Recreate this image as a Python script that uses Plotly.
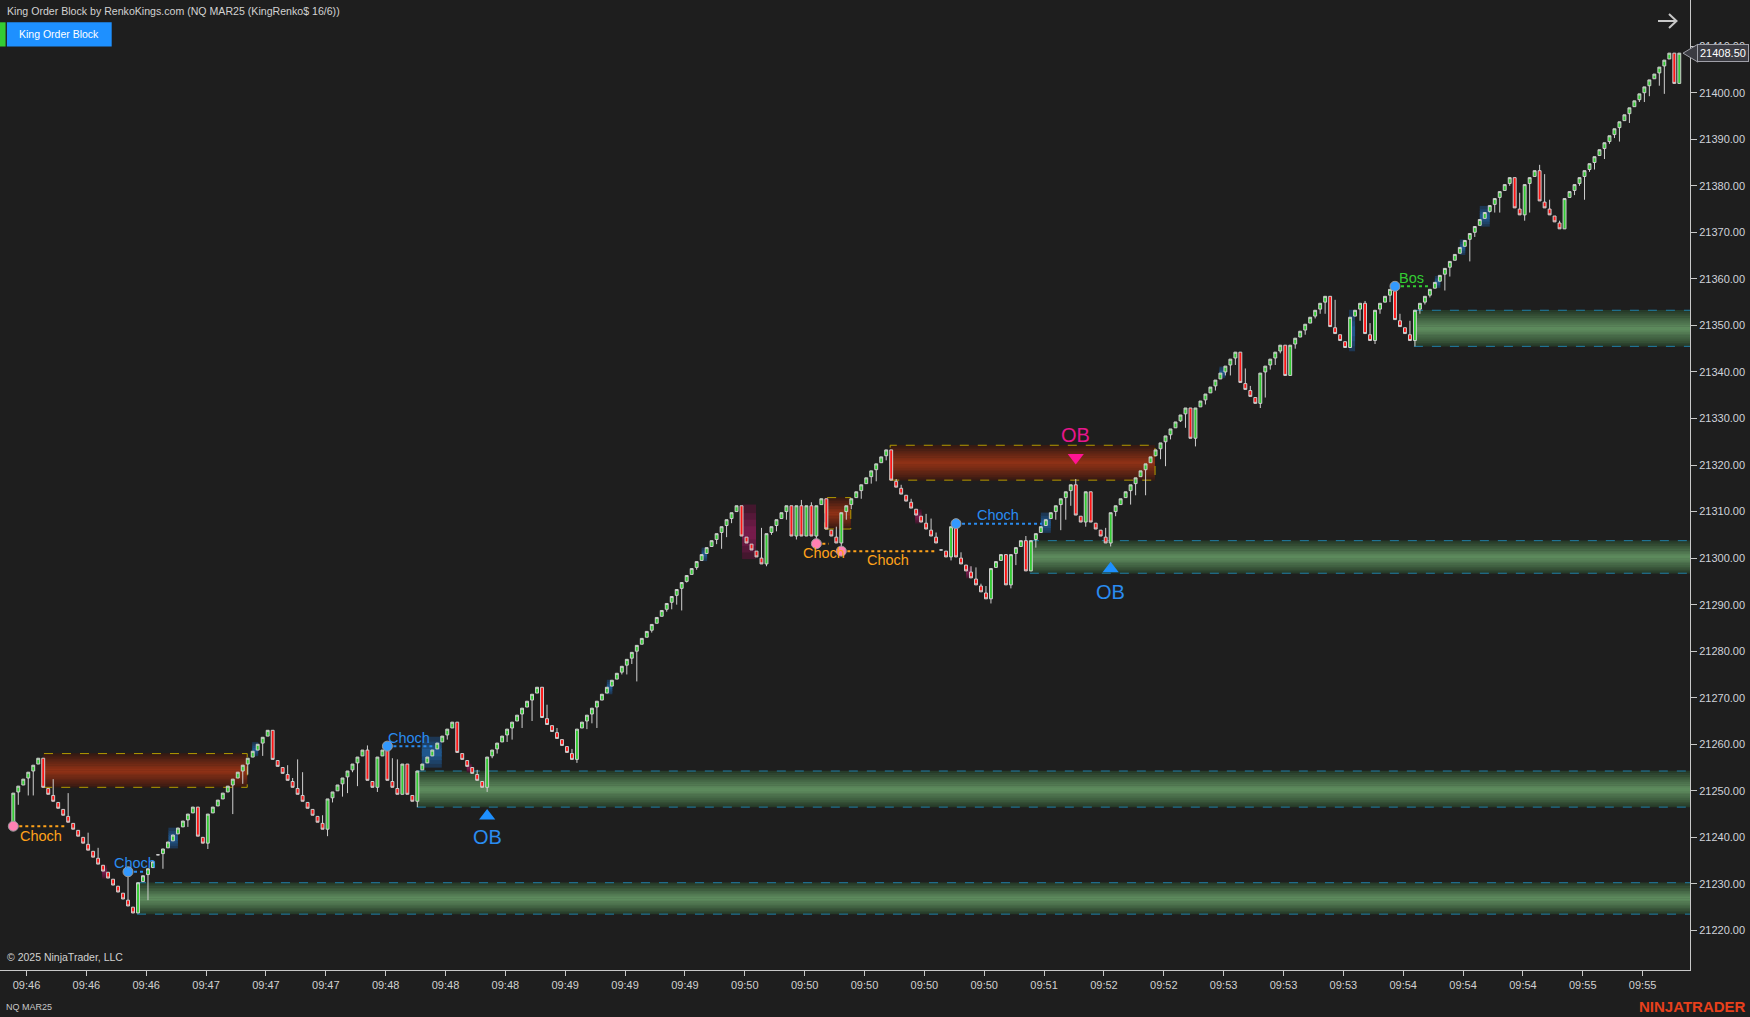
import plotly.graph_objects as go

# ---------------- data ----------------
first_open = 21242.5
closes = [
    21249.5, 21251.0, 21252.5, 21254.0, 21255.5, 21257.0, 21250.75, 21249.25, 21247.75, 21246.25,
    21244.75, 21243.25, 21241.75, 21240.25, 21238.75, 21237.25, 21235.75, 21234.25, 21232.75, 21231.25,
    21229.75, 21228.25, 21226.75, 21225.25, 21223.75, 21230.25, 21231.75, 21233.25, 21234.75, 21236.25,
    21237.5, 21239.0, 21240.5, 21242.0, 21243.5, 21245.0, 21246.5, 21240.25, 21238.75, 21245.0,
    21246.5, 21248.0, 21249.5, 21251.0, 21252.5, 21254.0, 21255.5, 21257.0, 21258.5, 21260.0,
    21261.5, 21263.0, 21256.75, 21255.25, 21253.75, 21252.25, 21250.75, 21249.25, 21247.75, 21246.25,
    21244.75, 21243.25, 21241.75, 21248.25, 21249.75, 21251.25, 21252.75, 21254.25, 21255.75, 21257.25,
    21258.75, 21252.25, 21250.75, 21257.25, 21258.75, 21252.25, 21250.75, 21249.25, 21255.75, 21249.25,
    21247.75, 21254.25, 21255.75, 21257.25, 21258.75, 21260.25, 21261.75, 21263.25, 21264.75, 21258.25,
    21256.75, 21255.25, 21253.75, 21252.25, 21250.75, 21257.25, 21258.75, 21260.25, 21261.75, 21263.25,
    21264.75, 21266.25, 21267.75, 21269.25, 21270.75, 21272.25, 21265.75, 21264.25, 21262.75, 21261.25,
    21259.75, 21258.25, 21256.75, 21263.25, 21264.75, 21266.25, 21267.75, 21269.25, 21270.75, 21272.25,
    21273.75, 21275.25, 21276.75, 21278.25, 21279.75, 21281.25, 21282.75, 21284.25, 21285.75, 21287.25,
    21288.75, 21290.25, 21291.75, 21293.25, 21294.75, 21296.25, 21297.75, 21299.25, 21300.75, 21302.25,
    21303.75, 21305.25, 21306.75, 21308.25, 21309.75, 21311.25, 21304.75, 21303.25, 21301.75, 21300.25,
    21298.75, 21305.25, 21306.75, 21308.25, 21309.75, 21311.25, 21304.75, 21311.25, 21304.75, 21311.25,
    21304.75, 21311.25, 21312.75, 21306.25, 21304.75, 21303.25, 21309.75, 21311.25, 21312.75, 21314.25,
    21315.75, 21317.25, 21318.75, 21320.25, 21321.75, 21323.25, 21316.75, 21315.25, 21313.75, 21312.25,
    21310.75, 21309.25, 21307.75, 21306.25, 21304.75, 21303.25, 21301.75, 21300.25, 21306.75, 21300.25,
    21298.75, 21297.25, 21295.75, 21294.25, 21292.75, 21291.25, 21297.75, 21299.25, 21300.75, 21294.25,
    21300.75, 21302.25, 21303.75, 21297.25, 21303.75, 21305.25, 21306.75, 21308.25, 21309.75, 21311.25,
    21312.75, 21314.25, 21315.75, 21309.25, 21307.75, 21314.25, 21307.75, 21306.25, 21304.75, 21303.25,
    21309.75, 21311.25, 21312.75, 21314.25, 21315.75, 21317.25, 21318.75, 21320.25, 21321.75, 21323.25,
    21324.75, 21326.25, 21327.75, 21329.25, 21330.75, 21332.25, 21325.75, 21332.25, 21333.75, 21335.25,
    21336.75, 21338.25, 21339.75, 21341.25, 21342.75, 21344.25, 21337.75, 21336.25, 21334.75, 21333.25,
    21339.75, 21341.25, 21342.75, 21344.25, 21345.75, 21339.25, 21345.75, 21347.25, 21348.75, 21350.25,
    21351.75, 21353.25, 21354.75, 21356.25, 21349.75, 21348.25, 21346.75, 21345.25, 21351.75, 21353.25,
    21354.75, 21348.25, 21346.75, 21353.25, 21354.75, 21356.25, 21357.75, 21351.25, 21349.75, 21348.25,
    21346.75, 21353.25, 21354.75, 21356.25, 21357.75, 21359.25, 21360.75, 21362.25, 21363.75, 21365.25,
    21366.75, 21368.25, 21369.75, 21371.25, 21372.75, 21374.25, 21375.75, 21377.25, 21378.75, 21380.25,
    21381.75, 21375.25, 21373.75, 21380.25, 21381.75, 21383.25, 21376.75, 21375.25, 21373.75, 21372.25,
    21370.75, 21377.25, 21378.75, 21380.25, 21381.75, 21383.25, 21384.75, 21386.25, 21387.75, 21389.25,
    21390.75, 21392.25, 21393.75, 21395.25, 21396.75, 21398.25, 21399.75, 21401.25, 21402.75, 21404.0,
    21405.5, 21407.0, 21408.5, 21402.0, 21408.5,
]
doji_bars = [29, 186]
tick_size = 0.25
wick_low = {
    1: 21247.0, 3: 21249.0, 4: 21249.0, 27: 21226.5, 30: 21233.25, 35: 21242.25, 39: 21237.5,
    44: 21245.0, 46: 21251.5, 47: 21253.5, 50: 21257.5, 63: 21240.25, 64: 21247.5, 66: 21248.75,
    67: 21249.5, 68: 21254.0, 69: 21251.0, 73: 21249.75, 81: 21246.5, 87: 21261.0, 95: 21249.75,
    96: 21257.0, 97: 21258.0, 99: 21260.5, 100: 21261.0, 102: 21263.5, 104: 21265.0, 113: 21256.0,
    115: 21263.25, 116: 21264.5, 117: 21263.5, 122: 21275.0, 123: 21275.0, 124: 21277.25, 125: 21273.5,
    128: 21284.0, 131: 21288.5, 132: 21289.0, 133: 21290.0, 134: 21288.75, 135: 21294.75, 137: 21297.5,
    141: 21303.0, 142: 21302.0, 143: 21304.5, 144: 21307.5, 151: 21298.25, 152: 21305.0, 153: 21305.75,
    155: 21308.25, 157: 21304.0, 161: 21303.0, 166: 21301.5, 167: 21308.25, 168: 21310.5, 170: 21312.75,
    172: 21316.0, 173: 21316.5, 175: 21321.0, 188: 21299.5, 196: 21290.25, 197: 21298.0, 200: 21293.5,
    201: 21298.5, 205: 21302.25, 209: 21308.25, 210: 21306.0, 211: 21308.25, 212: 21311.25, 215: 21306.75,
    220: 21302.5, 221: 21309.0, 223: 21313.0, 224: 21311.5, 225: 21313.5, 227: 21313.5, 230: 21321.25,
    231: 21319.75, 232: 21325.5, 234: 21329.25, 235: 21328.0, 237: 21324.0, 239: 21333.0, 240: 21335.5,
    241: 21336.0, 243: 21339.25, 244: 21339.25, 245: 21341.5, 250: 21332.25, 251: 21334.5, 252: 21340.5,
    253: 21341.5, 254: 21344.0, 257: 21345.0, 259: 21348.0, 261: 21351.5, 262: 21352.5, 263: 21352.5,
    270: 21351.0, 273: 21346.0, 274: 21352.5, 276: 21355.0, 281: 21345.5, 282: 21352.5, 283: 21354.5,
    284: 21356.0, 287: 21357.5, 288: 21360.5, 292: 21363.75, 293: 21369.0, 296: 21374.25, 297: 21374.25,
    298: 21374.25, 300: 21380.0, 303: 21372.5, 304: 21374.25, 313: 21378.0, 314: 21380.0, 315: 21377.0,
    316: 21383.0, 317: 21383.5, 319: 21385.75, 320: 21389.0, 321: 21390.25, 322: 21389.5, 324: 21393.5,
    326: 21398.0, 327: 21398.0, 328: 21399.25, 330: 21401.5, 331: 21399.75,
}
wick_high = {
    8: 21252.5, 11: 21249.5, 15: 21241.0, 17: 21237.75, 23: 21232.5, 55: 21255.5, 56: 21252.75,
    57: 21256.75, 58: 21254.0, 62: 21244.75, 71: 21259.75, 75: 21259.75, 76: 21257.0, 77: 21256.75,
    93: 21254.5, 107: 21268.5, 109: 21263.5, 112: 21259.0, 150: 21306.5, 158: 21312.5, 160: 21312.0,
    165: 21306.75, 177: 21317.0, 178: 21315.75, 180: 21312.75, 183: 21309.5, 184: 21308.5, 185: 21305.5,
    190: 21301.25, 192: 21298.25, 193: 21298.0, 194: 21294.5, 195: 21294.0, 203: 21304.75, 213: 21317.0,
    219: 21306.5, 247: 21340.75, 248: 21337.0, 265: 21355.5, 271: 21355.25, 272: 21350.5, 278: 21352.5,
    280: 21351.0, 302: 21378.5, 306: 21384.5, 307: 21382.5, 308: 21377.0, 310: 21372.5,
}
time_labels = ["09:46", "09:46", "09:46", "09:47", "09:47", "09:47", "09:48", "09:48", "09:48",
               "09:49", "09:49", "09:49", "09:50", "09:50", "09:50", "09:50", "09:50", "09:51",
               "09:52", "09:52", "09:53", "09:53", "09:53", "09:54", "09:54", "09:54", "09:55", "09:55"]

# order blocks (bar start, bar end, top, bottom)
bear_obs = [(6, 46.9, 21258.0, 21250.75), (162.7, 167.9, 21313.0, 21306.25), (175.8, 228.9, 21324.25, 21316.75)]
# bullish order blocks (bar start, top, bottom) extend to the right edge
bull_obs = [(24.8, 21230.25, 21223.5), (80.9, 21254.25, 21246.5), (203.8, 21303.75, 21296.75), (280.8, 21353.25, 21345.5)]
# imbalance shades (bar start, bar end, top, bottom)
bull_imb = [(31.1, 33.0, 21242.0, 21237.7), (47.9, 49.1, 21260.4, 21257.5), (81.9, 85.9, 21261.5, 21255.1),
            (119.0, 120.1, 21273.8, 21270.8), (138.0, 139.1, 21302.2, 21299.4), (206.0, 208.0, 21309.7, 21305.5),
            (241.8, 243.0, 21341.1, 21338.7), (267.8, 269.0, 21353.2, 21344.6), (285.0, 286.1, 21360.6, 21358.1),
            (290.0, 291.1, 21368.4, 21365.2), (294.0, 296.0, 21375.6, 21371.3)]
bear_imb = [(17.8, 18.8, 21233.9, 21231.2), (90.9, 91.9, 21255.8, 21254.0), (146.1, 148.9, 21311.3, 21300.0),
            (180.8, 182.1, 21310.4, 21307.5), (191.0, 192.1, 21298.2, 21295.7)]
# structure signals: (bar, price, dot colour, line end bar, label bar, label price, text, kind)
signals = [
    (0, 21242.4, "pink", 10.8, 5.6, 21240.3, "Choch", "bear"),
    (23, 21232.6, "blue", 26.7, 24.4, 21234.4, "Choch", "bull"),
    (75, 21259.6, "blue", 84.0, 79.3, 21261.3, "Choch", "bull"),
    (161, 21303.1, "pink", 163.5, 162.5, 21301.0, "Choch", "bear"),
    (166, 21301.5, "pink", 184.8, 175.4, 21299.6, "Choch", "bear"),
    (189, 21307.4, "blue", 206.2, 197.5, 21309.2, "Choch", "bull"),
    (277, 21358.4, "blue", 283.7, 280.4, 21360.1, "Bos", "bos"),
]
# OB arrows: (bar, triangle price, label price, direction)
ob_marks = [(95, 21244.6, 21240.1, "up"), (213, 21321.6, 21326.5, "down"), (220, 21297.7, 21292.8, "up")]
last_price = 21408.50

# ---------------- figure ----------------
W, H = 1750, 1017
PW, PH = 1690, 970
X0_PX, BAR_PX = 13.3, 4.988
Y_TOP, PX_PER_PT = 21419.92, 4.654
x_range = [-X0_PX / BAR_PX, (PW - X0_PX) / BAR_PX]
y_range = [Y_TOP - PH / PX_PER_PT, Y_TOP]
FONT = "Liberation Sans, Arial, sans-serif"
BG = "#1e1e1e"

n = len(closes)
opens = [first_open]
for i in range(1, n):
    prev_dir = 1 if closes[i - 1] >= opens[i - 1] else -1
    cur_dir = 1 if closes[i] >= closes[i - 1] else -1
    # continuation bricks start one tick past the previous close
    opens.append(closes[i - 1] + (tick_size * cur_dir if cur_dir == prev_dir else 0))
for b in doji_bars:
    opens[b] = closes[b]
highs = [max(opens[i], closes[i], wick_high.get(i, -1e9)) for i in range(n)]
lows = [min(opens[i], closes[i], wick_low.get(i, 1e9)) for i in range(n)]


def px(x):
    return x / PW


def py(y):
    return 1 - y / PH


def mix(c1, c2, f):
    return "rgb(%d,%d,%d)" % tuple(round(a + (b - a) * f) for a, b in zip(c1, c2))


shapes = []


def grad_box(x0, x1, top, bot, edge, mid, steps=20):
    h = (top - bot) / steps
    for k in range(steps):
        t = (k + 0.5) / steps
        f = (1 - abs(2 * t - 1)) ** 0.9
        shapes.append(dict(type="rect", xref="x", yref="y", x0=x0, x1=x1,
                           y0=bot + h * k - h * 0.15, y1=bot + h * (k + 1) + h * 0.15,
                           fillcolor=mix(edge, mid, f), line=dict(width=0), layer="below"))


for (s, e, top, bot) in bear_obs:
    grad_box(s, e, top, bot, (48, 24, 18), (145, 50, 22))
    shapes.append(dict(type="rect", xref="x", yref="y", x0=s, x1=e, y0=bot, y1=top,
                       line=dict(color="#b39b00", width=1, dash="dash"), fillcolor="rgba(0,0,0,0)", layer="below"))
for (s, top, bot) in bull_obs:
    grad_box(s, x_range[1], top, bot, (34, 52, 36), (96, 142, 96))
    for yy in (top, bot):
        shapes.append(dict(type="line", xref="x", yref="y", x0=s, x1=x_range[1], y0=yy, y1=yy,
                           line=dict(color="#1f7fa8", width=1, dash="dash"), layer="below"))
for (s, e, top, bot) in bull_imb:
    grad_box(s, e, top, bot, (28, 48, 72), (32, 92, 150), steps=8)
for (s, e, top, bot) in bear_imb:
    grad_box(s, e, top, bot, (58, 22, 40), (125, 28, 80), steps=8)

fig = go.Figure()
fig.add_trace(go.Candlestick(
    x=list(range(n)), open=opens, high=highs, low=lows, close=closes,
    increasing=dict(line=dict(color="#cfcfcf", width=1), fillcolor="#33cc33"),
    decreasing=dict(line=dict(color="#cfcfcf", width=1), fillcolor="#ff1414"),
    whiskerwidth=0, hoverinfo="skip", showlegend=False))

col_line = {"bear": "#ffa21a", "bull": "#2a8cf0", "bos": "#33cc33"}
col_dot = {"pink": "#ff80b4", "blue": "#3399ff"}
annotations = []
for (b, p, dot, e, lb, lp, txt, kind) in signals:
    fig.add_trace(go.Scatter(x=[b, e], y=[p, p], mode="lines", hoverinfo="skip", showlegend=False,
                             line=dict(color=col_line[kind], width=2, dash="dot")))
    fig.add_trace(go.Scatter(x=[b], y=[p], mode="markers", hoverinfo="skip", showlegend=False,
                             marker=dict(size=10, color=col_dot[dot], line=dict(color="#9a9a9a", width=1))))
    annotations.append(dict(x=lb, y=lp, xref="x", yref="y", text=txt, showarrow=False,
                            font=dict(family=FONT, size=14.5, color=col_line[kind]),
                            xanchor="center", yanchor="middle"))

for (b, tp, lp, d) in ob_marks:
    c = "#1e90ff" if d == "up" else "#ff1493"
    fig.add_trace(go.Scatter(x=[b], y=[tp], mode="markers", hoverinfo="skip", showlegend=False,
                             marker=dict(size=14, symbol="triangle-up" if d == "up" else "triangle-down",
                                         color=c, line=dict(width=0))))
    annotations.append(dict(x=b, y=lp, xref="x", yref="y", text="OB", showarrow=False,
                            font=dict(family=FONT, size=20, color="#2a8cf0" if d == "up" else "#e8168c"),
                            xanchor="center", yanchor="middle"))

# header / footer texts
annotations += [
    dict(x=px(5), y=py(11), xref="paper", yref="paper", xanchor="left", yanchor="middle", showarrow=False,
         text="King Order Block by RenkoKings.com (NQ MAR25 (KingRenko$ 16/6))",
         font=dict(family=FONT, size=10.6, color="#d2d2d2")),
    dict(x=px(59.3), y=py(34.5), xref="paper", yref="paper", xanchor="center", yanchor="middle", showarrow=False,
         text="King Order Block", font=dict(family=FONT, size=10.5, color="#ffffff")),
    dict(x=px(5), y=py(957), xref="paper", yref="paper", xanchor="left", yanchor="middle", showarrow=False,
         text="© 2025 NinjaTrader, LLC", font=dict(family=FONT, size=10.5, color="#d2d2d2")),
    dict(x=px(4), y=py(1007), xref="paper", yref="paper", xanchor="left", yanchor="middle", showarrow=False,
         text="NQ MAR25", font=dict(family=FONT, size=9, color="#c8c8c8")),
    dict(x=px(1748), y=py(1006), xref="paper", yref="paper", xanchor="right", yanchor="middle", showarrow=False,
         text="<b>NINJATRADER</b>", font=dict(family=FONT, size=15, color="#e8401c")),
    dict(x=px(1697), y=last_price, xref="paper", yref="y", xanchor="left", yanchor="middle", showarrow=False,
         text="%.2f" % last_price, font=dict(family=FONT, size=11, color="#ffffff"),
         bgcolor="#3b3b42", bordercolor="#a0a0a8", borderwidth=1, borderpad=2),
]

# UI shapes (paper coordinates)
shapes += [
    dict(type="rect", xref="paper", yref="paper", x0=px(0), x1=px(5.6), y0=py(46.5), y1=py(22.3),
         fillcolor="#33cc33", line=dict(width=0), layer="above"),
    dict(type="rect", xref="paper", yref="paper", x0=px(6.9), x1=px(111.7), y0=py(46.5), y1=py(22.3),
         fillcolor="#1e90ff", line=dict(width=0), layer="above"),
    dict(type="line", xref="paper", yref="paper", x0=px(1658), x1=px(1676), y0=py(21), y1=py(21),
         line=dict(color="#c8c8c8", width=2), layer="above"),
    dict(type="path", xref="paper", yref="paper",
         path="M %f %f L %f %f L %f %f" % (px(1669), py(14), px(1676.5), py(21), px(1669), py(28)),
         line=dict(color="#c8c8c8", width=2), layer="above"),
]
ly = (Y_TOP - last_price) * PX_PER_PT
shapes.append(dict(type="path", xref="paper", yref="paper",
                   path="M %f %f L %f %f L %f %f Z" % (px(1683), py(ly), px(1698), py(ly - 9), px(1698), py(ly + 9)),
                   fillcolor="#3b3b42", line=dict(color="#a0a0a8", width=1), layer="above"))

tick_pos = [2.65 + 12.0 * k for k in range(len(time_labels))]

fig.update_layout(
    width=W, height=H, margin=dict(l=0, r=W - PW, t=0, b=H - PH, autoexpand=False),
    paper_bgcolor=BG, plot_bgcolor=BG, showlegend=False,
    shapes=shapes, annotations=annotations, boxgap=0.42, boxgroupgap=0.0,
    font=dict(family=FONT, color="#d0d0d0"),
    xaxis=dict(range=x_range, rangeslider=dict(visible=False), showgrid=False, zeroline=False,
               showline=True, linecolor="#c8c8c8", linewidth=1, ticks="outside", ticklen=5,
               tickcolor="#c8c8c8", tickvals=tick_pos, ticktext=time_labels,
               tickfont=dict(family=FONT, size=11, color="#d0d0d0"), fixedrange=True),
    yaxis=dict(range=y_range, side="right", showgrid=False, zeroline=False, showline=True,
               linecolor="#c8c8c8", linewidth=1, ticks="outside", ticklen=6, tickcolor="#c8c8c8",
               tickmode="linear", tick0=0, dtick=10, tickformat=".2f",
               tickfont=dict(family=FONT, size=11, color="#d0d3da"), fixedrange=True),
)

fig.write_html("out.html", config={"displayModeBar": False},
               post_script="document.body.style.margin='0';document.body.style.overflow='hidden';")
